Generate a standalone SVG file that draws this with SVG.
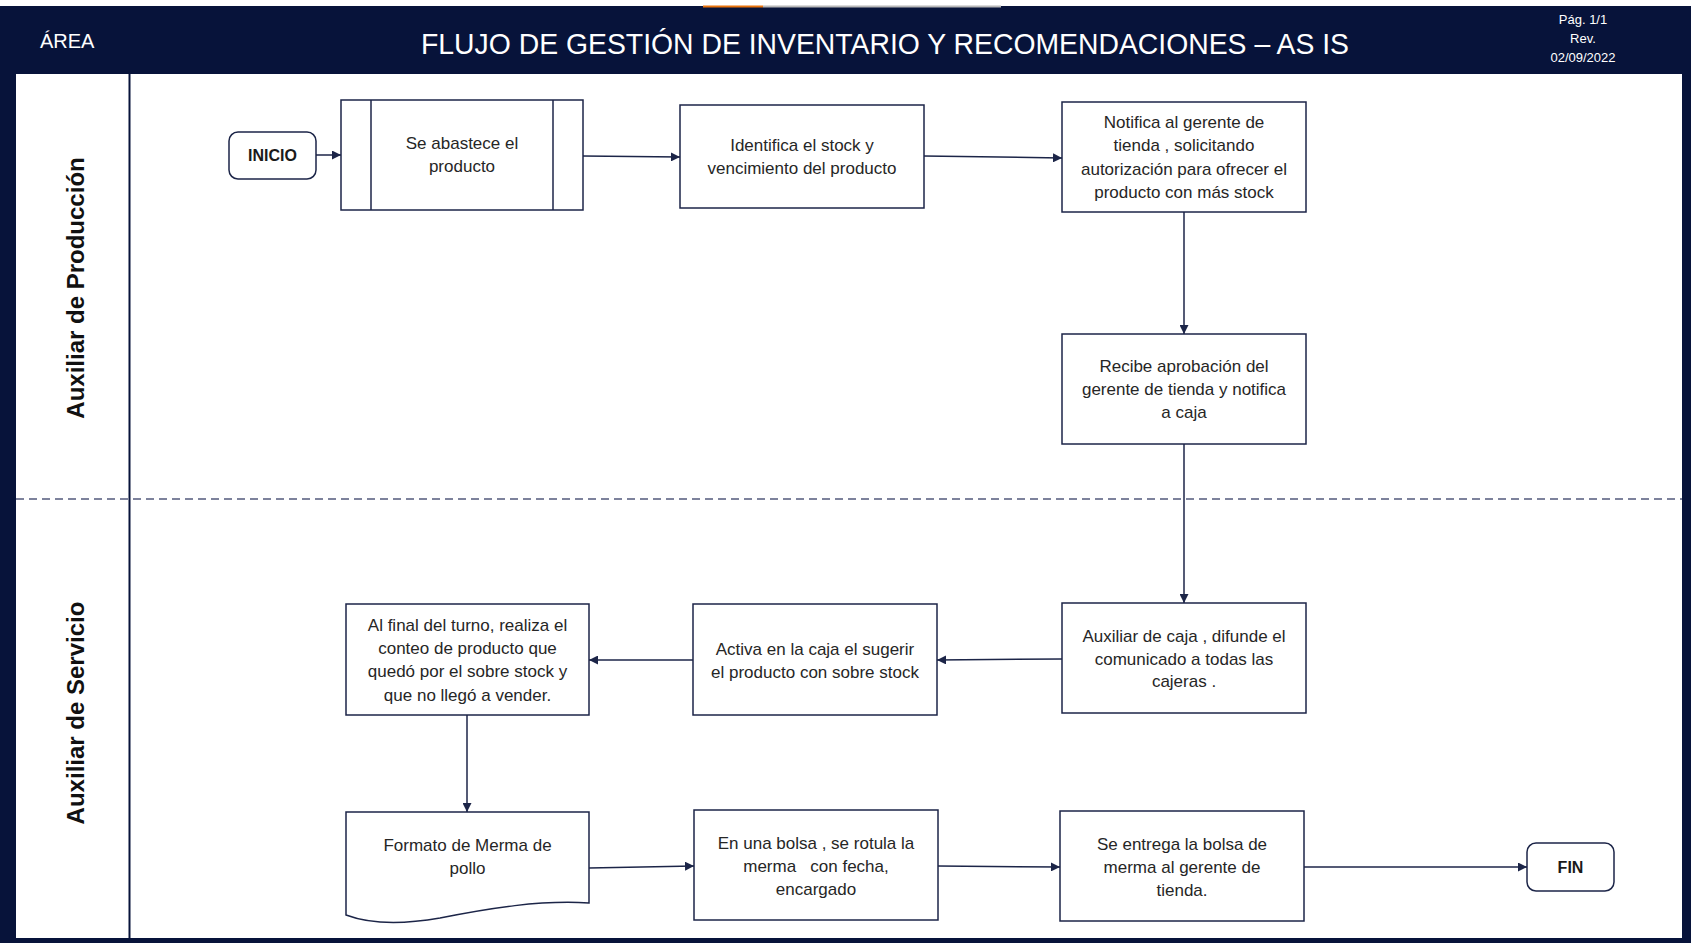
<svg xmlns="http://www.w3.org/2000/svg" width="1691" height="943" viewBox="0 0 1691 943">
<defs>
<style>
.hdr{fill:#07133a}
.box{fill:#ffffff;stroke:#1c2548;stroke-width:1.5}
.t{font-family:"Liberation Sans",Arial,sans-serif;font-size:17px;fill:#262626;text-anchor:middle}
.tb{font-family:"Liberation Sans",Arial,sans-serif;font-size:16px;font-weight:bold;fill:#1a1a1a;text-anchor:middle}
.w{font-family:"Liberation Sans",Arial,sans-serif;fill:#ffffff}
.lane{font-family:"Liberation Sans",Arial,sans-serif;font-size:24px;font-weight:bold;fill:#111111;text-anchor:middle}
.c{fill:none;stroke:#1c2548;stroke-width:1.5;marker-end:url(#ah)}
</style>
<marker id="ah" viewBox="0 0 10 10" refX="10" refY="5" markerWidth="9" markerHeight="9" markerUnits="userSpaceOnUse" orient="auto">
<path d="M0,0 L10,5 L0,10 Z" fill="#1c2548"/>
</marker>
</defs>
<rect width="1691" height="943" fill="#ffffff"/>
<g id="frame">
<rect class="hdr" x="0" y="6" width="1691" height="937"/>
<rect x="16" y="74" width="1666" height="864" fill="#ffffff"/>
<line x1="703" y1="6.5" x2="763" y2="6.5" stroke="#e8730c" stroke-width="2"/>
<line x1="763" y1="6.5" x2="1001" y2="6.5" stroke="#b8b8b8" stroke-width="2"/>
<line x1="129.5" y1="74" x2="129.5" y2="938" stroke="#07133a" stroke-width="2"/>
<line x1="16" y1="499" x2="1682" y2="499" stroke="#7d829c" stroke-width="2" stroke-dasharray="8,5"/>
<text class="w" x="40" y="48" font-size="20">ÁREA</text>
<text class="w" x="885" y="54" font-size="29" text-anchor="middle" textLength="928" lengthAdjust="spacingAndGlyphs">FLUJO DE GESTIÓN DE INVENTARIO Y RECOMENDACIONES – AS IS</text>
<text class="w" x="1583" y="24" font-size="13" text-anchor="middle">Pág. 1/1</text>
<text class="w" x="1583" y="43" font-size="13" text-anchor="middle">Rev.</text>
<text class="w" x="1583" y="62" font-size="13" text-anchor="middle">02/09/2022</text>
</g>
<g id="lane-produccion">
<text class="lane" transform="translate(84,288) rotate(-90)">Auxiliar de Producción</text>
</g>
<g id="lane-servicio">
<text class="lane" transform="translate(84,713) rotate(-90)">Auxiliar de Servicio</text>
</g>
<g id="connectors">
<path class="c" d="M316,155 H341"/>
<path class="c" d="M583,156 L680,157"/>
<path class="c" d="M924,156 L1062,158"/>
<path class="c" d="M1184,212 V334"/>
<path class="c" d="M1184,444 V603"/>
<path class="c" d="M1062,659 L937,660"/>
<path class="c" d="M693,660 H589"/>
<path class="c" d="M467,715 V812"/>
<path class="c" d="M589,868 L694,866"/>
<path class="c" d="M938,866 L1060,867"/>
<path class="c" d="M1304,867 H1527"/>
</g>
<g id="inicio">
<rect class="box" x="229" y="132" width="87" height="47" rx="9"/>
<text class="tb" x="272.5" y="161">INICIO</text>
</g>
<g id="abastece">
<rect class="box" x="341" y="100" width="242" height="110"/>
<line x1="371" y1="100" x2="371" y2="210" stroke="#1c2548" stroke-width="1.5"/>
<line x1="553" y1="100" x2="553" y2="210" stroke="#1c2548" stroke-width="1.5"/>
<text class="t" x="462" y="149">Se abastece el</text>
<text class="t" x="462" y="172">producto</text>
</g>
<g id="identifica">
<rect class="box" x="680" y="105" width="244" height="103"/>
<text class="t" x="802" y="151">Identifica el stock y</text>
<text class="t" x="802" y="174">vencimiento del producto</text>
</g>
<g id="notifica">
<rect class="box" x="1062" y="102" width="244" height="110"/>
<text class="t" x="1184" y="128">Notifica al gerente de</text>
<text class="t" x="1184" y="151">tienda , solicitando</text>
<text class="t" x="1184" y="175">autorización para ofrecer el</text>
<text class="t" x="1184" y="198">producto con más stock</text>
</g>
<g id="recibe">
<rect class="box" x="1062" y="334" width="244" height="110"/>
<text class="t" x="1184" y="372">Recibe aprobación del</text>
<text class="t" x="1184" y="395">gerente de tienda y notifica</text>
<text class="t" x="1184" y="418">a caja</text>
</g>
<g id="auxcaja">
<rect class="box" x="1062" y="603" width="244" height="110"/>
<text class="t" x="1184" y="642">Auxiliar de caja , difunde el</text>
<text class="t" x="1184" y="665">comunicado a todas las</text>
<text class="t" x="1184" y="687">cajeras .</text>
</g>
<g id="activa">
<rect class="box" x="693" y="604" width="244" height="111"/>
<text class="t" x="815" y="655">Activa en la caja el sugerir</text>
<text class="t" x="815" y="678">el producto con sobre stock</text>
</g>
<g id="alfinal">
<rect class="box" x="346" y="604" width="243" height="111"/>
<text class="t" x="467.5" y="631">Al final del turno, realiza el</text>
<text class="t" x="467.5" y="654">conteo de producto que</text>
<text class="t" x="467.5" y="677">quedó por el sobre stock y</text>
<text class="t" x="467.5" y="701">que no llegó a vender.</text>
</g>
<g id="formato">
<path class="box" d="M346,812 H589 V903 C540,900 490,908 440,918 C400,925 370,924 346,915 Z"/>
<text class="t" x="467.5" y="851">Formato de Merma de</text>
<text class="t" x="467.5" y="874">pollo</text>
</g>
<g id="bolsa">
<rect class="box" x="694" y="810" width="244" height="110"/>
<text class="t" x="816" y="849">En una bolsa , se rotula la</text>
<text class="t" x="816" y="872" xml:space="preserve">merma   con fecha,</text>
<text class="t" x="816" y="895">encargado</text>
</g>
<g id="entrega">
<rect class="box" x="1060" y="811" width="244" height="110"/>
<text class="t" x="1182" y="850">Se entrega la bolsa de</text>
<text class="t" x="1182" y="873">merma al gerente de</text>
<text class="t" x="1182" y="896">tienda.</text>
</g>
<g id="fin">
<rect class="box" x="1527" y="843" width="87" height="48" rx="9"/>
<text class="tb" x="1570.5" y="873">FIN</text>
</g>
</svg>
